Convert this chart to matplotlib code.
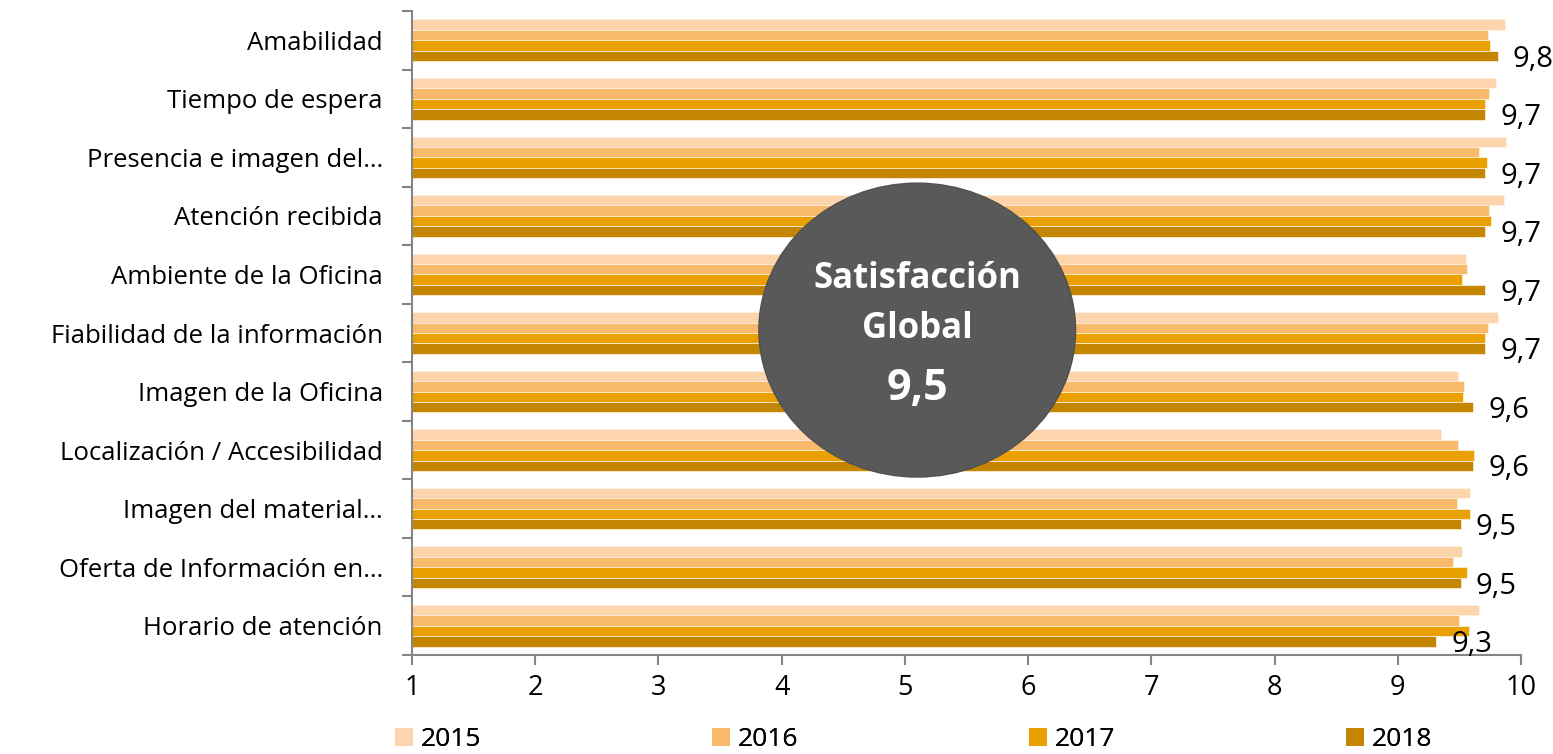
import matplotlib
matplotlib.use("Agg")
import matplotlib.pyplot as plt
from matplotlib.patches import Ellipse, Patch
import numpy as np

plt.rcParams['font.family'] = ['Open Sans', 'DejaVu Sans']

categories = ["Amabilidad", "Tiempo de espera", "Presencia e imagen del…",
              "Atención recibida", "Ambiente de la Oficina",
              "Fiabilidad de la información", "Imagen de la Oficina",
              "Localización / Accesibilidad", "Imagen del material…",
              "Oferta de Información en…", "Horario de atención"]
years = ["2015", "2016", "2017", "2018"]
v2015 = [9.87, 9.80, 9.88, 9.86, 9.55, 9.81, 9.49, 9.35, 9.59, 9.52, 9.66]
v2016 = [9.73, 9.74, 9.66, 9.74, 9.56, 9.73, 9.54, 9.49, 9.48, 9.45, 9.50]
v2017 = [9.75, 9.71, 9.72, 9.76, 9.52, 9.71, 9.53, 9.62, 9.59, 9.56, 9.58]
v2018 = [9.81, 9.71, 9.71, 9.71, 9.71, 9.71, 9.61, 9.61, 9.51, 9.51, 9.31]
labels2018 = ["9,8", "9,7", "9,7", "9,7", "9,7", "9,7", "9,6", "9,6", "9,5", "9,5", "9,3"]
global_title = ["Satisfacción", "Global"]
global_label = "9,5"
xticks = [1, 2, 3, 4, 5, 6, 7, 8, 9, 10]

colors = ['#FCD5AC', '#F9B96A', '#EAA100', '#C48600']
series = [v2015, v2016, v2017, v2018]

fig = plt.figure(figsize=(15.53, 7.54), dpi=100)
ax = fig.add_axes([0.2653, 0.1313, 0.9794 - 0.2653, 0.9854 - 0.1313])

n = len(categories)
y = np.arange(n)
h = 0.178
for i, (vals, c, yr) in enumerate(zip(series, colors, years)):
    ax.barh(y + (i - 1.5) * h, np.array(vals) - 1, left=1, height=h, color=c,
            edgecolor='#FFF3E6', linewidth=0.5, label=yr, zorder=2)

for yi, v, lab in zip(y, v2018, labels2018):
    ax.annotate(lab, (v, yi + 1.5 * h), xytext=(11, -7.7), textcoords='offset points',
                ha='left', va='baseline', fontsize=21, color='black')

ax.set_xlim(1, 10)
ax.set_ylim(n - 0.5, -0.5)
ax.set_xticks(xticks)
ax.set_xticklabels([str(t) for t in xticks], fontsize=19.5)
ax.set_yticks(y)
ax.set_yticklabels(categories, fontsize=18.5)
ax.set_yticks(np.arange(-0.5, n + 0.5, 1), minor=True)
ax.tick_params(axis='y', which='major', length=0, pad=21)
ax.tick_params(axis='y', which='minor', length=7, color='#868686', width=1.5)
ax.tick_params(axis='x', length=7, color='#868686', width=1.5, pad=7)
for s in ['top', 'right']:
    ax.spines[s].set_visible(False)
for s in ['left', 'bottom']:
    ax.spines[s].set_color('#868686')
    ax.spines[s].set_linewidth(1.5)

ell = Ellipse((5.10, 4.95), width=2.57, height=5.02, facecolor='#595959',
              edgecolor='#505050', linewidth=1, zorder=5)
ax.add_patch(ell)
ax.text(5.10, 4.23, global_title[0], ha='center', va='baseline', fontsize=25,
        fontweight='bold', color='white', zorder=6)
ax.text(5.10, 5.085, global_title[1], ha='center', va='baseline', fontsize=25,
        fontweight='bold', color='white', zorder=6)
ax.text(5.10, 6.14, global_label, ha='center', va='baseline', fontsize=31,
        fontweight='bold', color='white', zorder=6)

legend_x = [395, 712, 1029, 1346]
for c, yr, lx in zip(colors, years, legend_x):
    lg = fig.legend(handles=[Patch(facecolor=c, label=yr)], loc='center left',
                    bbox_to_anchor=(lx / 1553, 1 - 740 / 754), frameon=False,
                    fontsize=19, handlelength=0.67, handleheight=0.67,
                    handletextpad=0.3, borderaxespad=0, borderpad=0)
    fig.add_artist(lg)

fig.savefig("out.png", dpi=100)
